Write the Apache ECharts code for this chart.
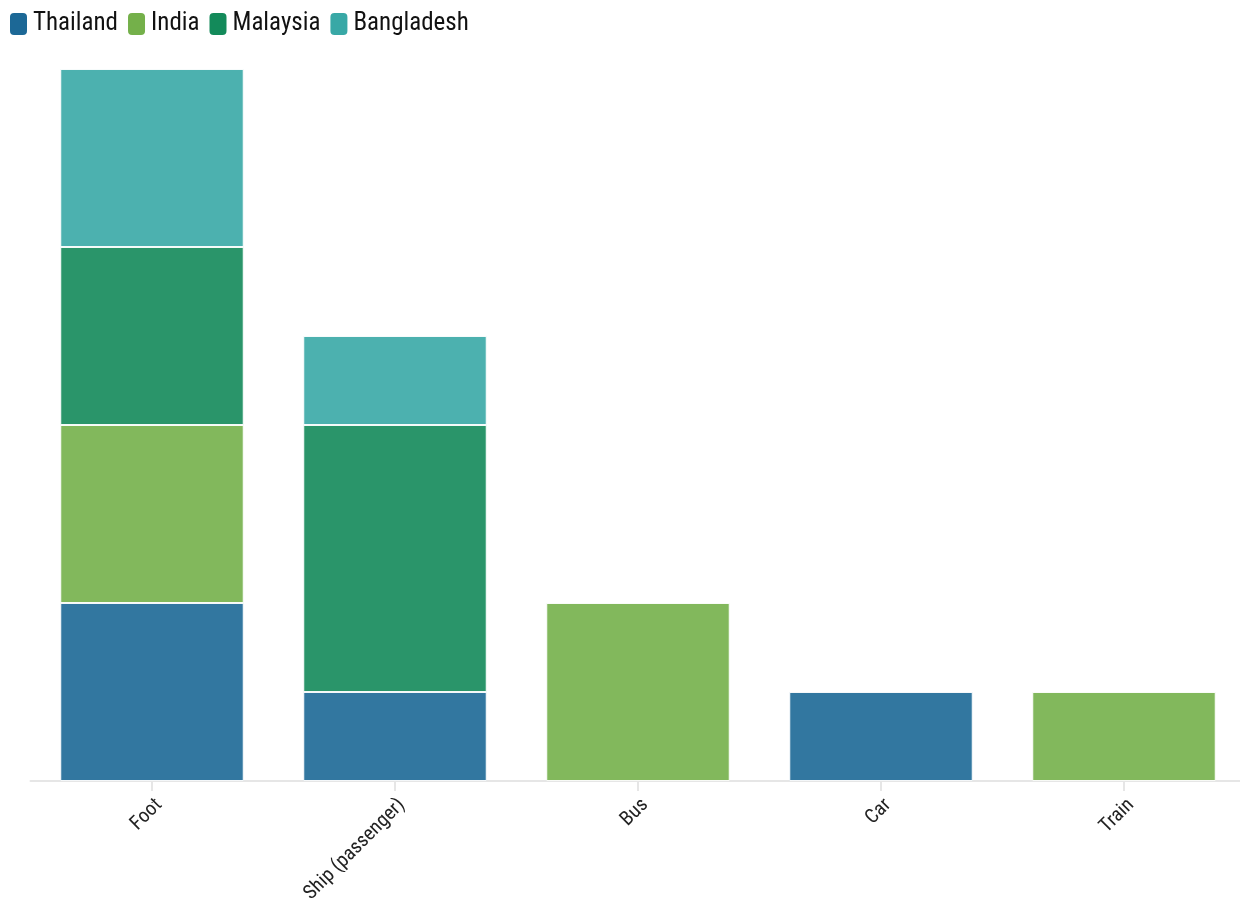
<!DOCTYPE html>
<html><head><meta charset="utf-8">
<script src="https://cdn.jsdelivr.net/npm/echarts@6/dist/echarts.min.js"></script>
<style>html,body{margin:0;padding:0;background:#fff}#c{width:1240px;height:904px}</style>
</head><body><div id="c"></div>
<script>
const categories = ['Foot', 'Ship (passenger)', 'Bus', 'Car', 'Train'];
const seriesNames = ['Thailand', 'India', 'Malaysia', 'Bangladesh'];
const thailand = [2, 1, 0, 1, 0];
const india = [2, 0, 2, 0, 1];
const malaysia = [2, 3, 0, 0, 0];
const bangladesh = [2, 1, 0, 0, 0];
const colors = ['#1c6896', '#74b04a', '#138a5a', '#38a8a6'];
const values = [thailand, india, malaysia, bangladesh];
const font = '"Roboto Condensed", "Liberation Sans Narrow", "DejaVu Sans Condensed", Roboto, sans-serif';
const chart = echarts.init(document.getElementById('c'));
chart.setOption({
  animation: false,
  color: colors,
  legend: {
    left: 3, top: 6, itemWidth: 19, itemHeight: 24, itemGap: 8,
    icon: 'path://M5,0 H14 Q19,0 19,5 V19 Q19,24 14,24 H5 Q0,24 0,19 V5 Q0,0 5,0 Z',
    itemStyle: {opacity: 1},
    textStyle: {fontFamily: font, fontSize: 25, color: '#111'},
    data: seriesNames
  },
  grid: {left: 30.5, right: -5.5, top: 69, bottom: 123, containLabel: false, outerBoundsMode: 'none'},
  xAxis: {
    type: 'category', data: categories,
    axisLine: {lineStyle: {color: '#e6e6e6', width: 2}},
    axisTick: {show: true, alignWithLabel: true, length: 10, lineStyle: {color: '#e6e6e6', width: 2}},
    axisLabel: {rotate: 45, fontFamily: font, fontSize: 20, color: '#222', margin: 14, verticalAlign: 'top'}
  },
  yAxis: {type: 'value', min: 0, max: 8, show: false, splitLine: {show: false}},
  series: seriesNames.map((n, i) => ({
    name: n, type: 'bar', stack: 'total', barCategoryGap: '24.5%',
    data: values[i].map(v => v === 0 ? null : v),
    itemStyle: {opacity: 0.9, borderColor: '#fff', borderWidth: 1}
  }))
});
</script></body></html>
